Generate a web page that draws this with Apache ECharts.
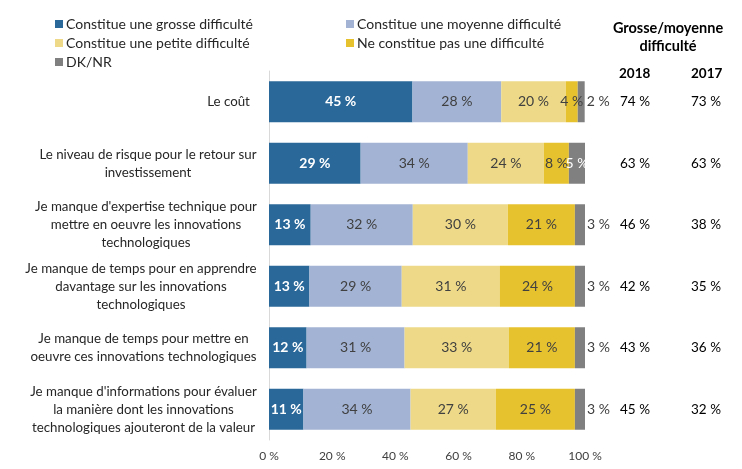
<!DOCTYPE html>
<html><head><meta charset="utf-8">
<script src="https://cdn.jsdelivr.net/npm/echarts@6/dist/echarts.min.js"></script>
<style>html,body{margin:0;padding:0;background:#fff}#c{width:742px;height:469px}</style>
</head><body><div id="c"></div>
<script>
const categories = [
  "Le coût",
  "Le niveau de risque pour le retour sur\ninvestissement",
  "Je manque d'expertise technique pour\nmettre en oeuvre les innovations\ntechnologiques",
  "Je manque de temps pour en apprendre\ndavantage sur les innovations\ntechnologiques",
  "Je manque de temps pour mettre en\noeuvre ces innovations technologiques",
  "Je manque d'informations pour évaluer\nla manière dont les innovations\ntechnologiques ajouteront de la valeur"
];
const seriesNames = ["Constitue une grosse difficulté","Constitue une moyenne difficulté","Constitue une petite difficulté","Ne constitue pas une difficulté","DK/NR"];
const grosse  = [45.4, 29.0, 13.2, 12.8, 11.9, 10.9];
const moyenne = [28.1, 33.9, 32.3, 29.2, 31.0, 33.9];
const petite  = [20.4, 24.1, 30.1, 31.1, 33.0, 27.0];
const pas     = [3.8, 7.9, 21.2, 23.7, 20.9, 25.0];
const dknr    = [2.2, 5.1, 3.2, 3.2, 3.2, 3.2];
const total2018 = [74, 63, 46, 42, 43, 45];
const total2017 = [73, 63, 38, 35, 36, 32];
const xTicks = [0, 20, 40, 60, 80, 100];

const FONT = 'Lato';
const colors = ['#2A6899','#A2B3D3','#EDD987','#E7C22F','#808080'];

const AX_FS = 13.3;
const cv = document.createElement('canvas').getContext('2d');
cv.font = AX_FS + 'px ' + FONT;
const rich = {};
categories.forEach((c, i) => {
  const w = Math.max(...c.split('\n').map(l => cv.measureText(l).width));
  rich['c' + i] = {width: Math.ceil(w) + 2 + (i === 0 ? 14 : 0), align: 'center', lineHeight: 18, fontSize: AX_FS, fontFamily: FONT, color: '#262626'};
});

const chart = echarts.init(document.getElementById('c'));
const mkSeries = (name, data, idx) => ({
  name, type: 'bar', stack: 'all', data: data.map((v, i) => {
    const item = {value: v};
    if (idx === 4 && i !== 1) item.label = {position: 'right', color: '#404040', distance: 2};
    return item;
  }),
  barWidth: 41,
  itemStyle: {color: colors[idx]},
  label: {show: true, position: 'inside', formatter: p => Math.round(p.value) + ' %', fontFamily: FONT, fontSize: 14,
          color: (idx === 0 || idx === 4) ? '#fff' : '#404040', fontWeight: idx === 0 ? 'bold' : 'normal'}
});

const legendText = {fontFamily: FONT, fontSize: 14, color: '#262626', padding: [0, 0, 0, -2]};
chart.setOption({
  animation: false,
  textStyle: {fontFamily: FONT},
  grid: {left: 269, right: 157, top: 71, bottom: 29, containLabel: false},
  legend: [
    {data: [seriesNames[0], seriesNames[2], seriesNames[4]], orient: 'vertical', left: 50, top: 12, itemWidth: 8, itemHeight: 8, itemGap: 5, icon: 'rect', textStyle: legendText},
    {data: [seriesNames[1], seriesNames[3]], orient: 'vertical', left: 341, top: 12, itemWidth: 8, itemHeight: 8, itemGap: 5, icon: 'rect', textStyle: legendText}
  ],
  xAxis: {type: 'value', min: 0, max: 100, interval: 20, splitLine: {show: false}, axisLine: {show: false}, axisTick: {show: false},
          axisLabel: {formatter: v => xTicks.includes(v) ? v + ' %' : '', fontFamily: FONT, fontSize: 12, color: '#404040', margin: 10}},
  yAxis: [
    {type: 'category', data: categories, inverse: true, axisTick: {show: false}, axisLine: {lineStyle: {color: '#d9d9d9'}},
     axisLabel: {margin: 11, align: 'right', rich,
       formatter: (v, i) => v.split('\n').map(l => '{c' + i + '|' + l + '}').join('\n')}},
    {type: 'category', data: total2018.map(v => v + ' %'), inverse: true, position: 'right', offset: 50,
     axisLine: {show: false}, axisTick: {show: false},
     axisLabel: {margin: 0, align: 'center', fontFamily: FONT, fontSize: 13.5, color: '#000'}},
    {type: 'category', data: total2017.map(v => v + ' %'), inverse: true, position: 'right', offset: 121,
     axisLine: {show: false}, axisTick: {show: false},
     axisLabel: {margin: 0, align: 'center', fontFamily: FONT, fontSize: 13.5, color: '#000'}}
  ],
  graphic: [
    {type: 'text', left: 668 - 60, top: 19, style: {text: 'Grosse/moyenne\ndifficulté', width: 120, align: 'center', x: 60, textAlign: 'center',
      font: 'bold 14.5px ' + FONT, fill: '#000', lineHeight: 18}},
    {type: 'text', left: 619, top: 67, style: {text: '2018', font: 'bold 13.5px ' + FONT, fill: '#000'}},
    {type: 'text', left: 691, top: 67, style: {text: '2017', font: 'bold 13.5px ' + FONT, fill: '#000'}}
  ],
  series: [
    mkSeries(seriesNames[0], grosse, 0),
    mkSeries(seriesNames[1], moyenne, 1),
    mkSeries(seriesNames[2], petite, 2),
    mkSeries(seriesNames[3], pas, 3),
    mkSeries(seriesNames[4], dknr, 4)
  ]
});
</script></body></html>
